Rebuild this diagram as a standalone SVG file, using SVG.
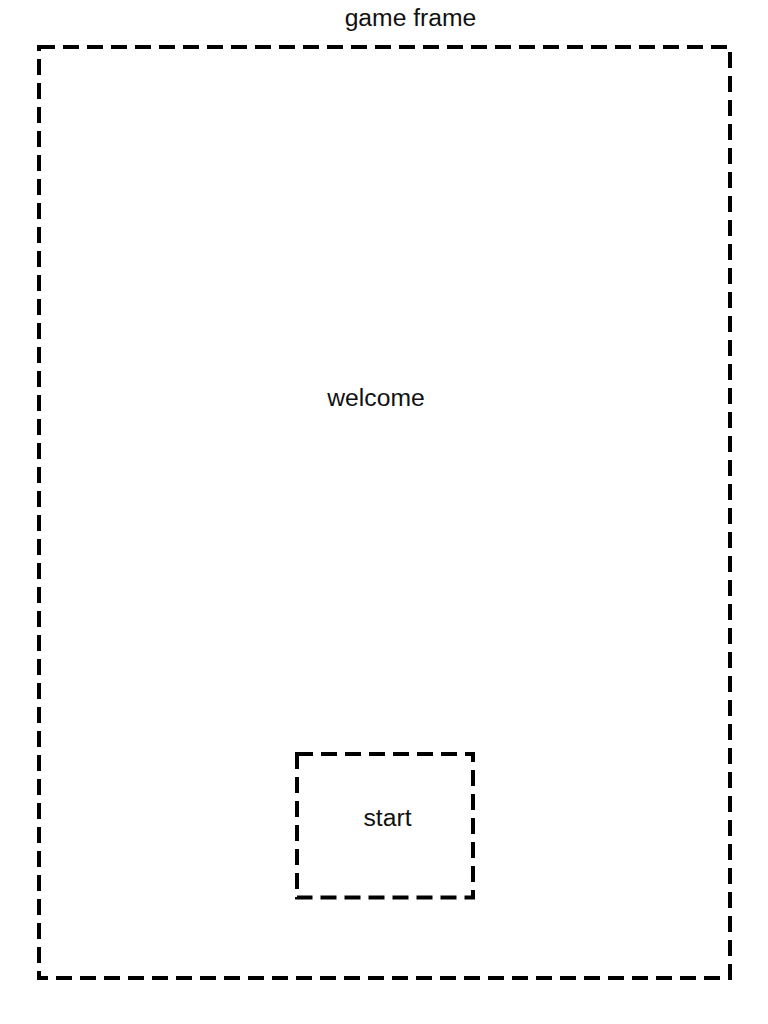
<svg xmlns="http://www.w3.org/2000/svg" width="768" height="1024" viewBox="0 0 768 1024">
<style>
.box{fill:none;stroke:#000;stroke-width:4;stroke-dasharray:16 8}
.lbl{font-family:"Liberation Sans",Arial,sans-serif;font-size:24.7px;fill:#111;text-anchor:middle}
</style>
<rect width="768" height="1024" fill="#fff"/>
<g id="game-frame">
<rect class="box" x="39" y="47" width="691" height="931"/>
<text class="lbl" x="410.5" y="26">game frame</text>
<text class="lbl" x="376" y="405.5">welcome</text>
</g>
<g id="start">
<rect class="box" x="297" y="754" width="176" height="143.5"/>
<text class="lbl" x="387.5" y="826">start</text>
</g>
<g id="connectors"></g>
</svg>
